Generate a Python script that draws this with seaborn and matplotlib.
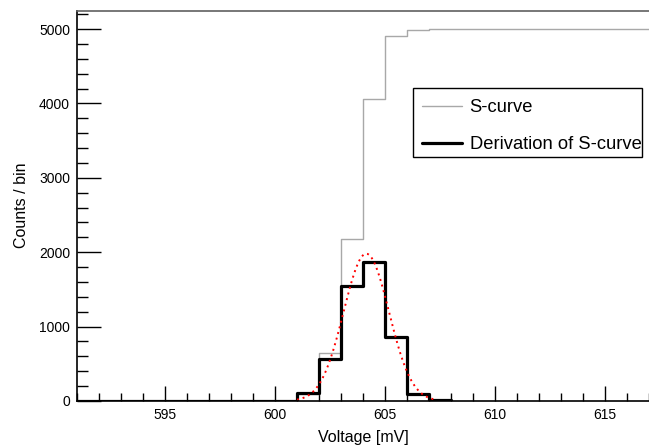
import numpy as np
import pandas as pd
import matplotlib
matplotlib.use("Agg")
import matplotlib.pyplot as plt
import seaborn as sns
from matplotlib.ticker import MultipleLocator
from matplotlib.lines import Line2D
from matplotlib.patches import Rectangle

# ---- data ----
scurve_bin_low = list(range(591, 617))  # lower edges of 1 mV bins
scurve_counts = [0, 0, 0, 0, 0, 0, 0, 0, 0, 0,
                 100, 650, 2180, 4060, 4910, 4990,
                 5000, 5000, 5000, 5000, 5000, 5000, 5000, 5000, 5000, 5000]
deriv_bin_low = list(range(591, 608))
deriv_counts = [0, 0, 0, 0, 0, 0, 0, 0, 0, 0,
                110, 560, 1550, 1870, 860, 92, 12]
# Gaussian fit parameters
fit_amp = 1980.0
fit_mean = 604.15
fit_sigma = 1.03
fit_range = (601.0, 607.3)

x_label = "Voltage [mV]"
y_label = "Counts / bin"
legend_labels = ["S-curve", "Derivation of S-curve"]

sns.set_theme(style="white")
plt.rcParams['font.family'] = ['Liberation Sans', 'DejaVu Sans']

W, H = 649, 445
fig = plt.figure(figsize=(W / 100, H / 100), dpi=100)
ax = fig.add_axes([77 / W, 1 - 401 / H, 1 - 77 / W, (401 - 10.5) / H])

s_df = pd.DataFrame({"x": np.array(scurve_bin_low) + 0.5, "w": scurve_counts})
d_df = pd.DataFrame({"x": np.array(deriv_bin_low) + 0.5, "w": deriv_counts})

sns.histplot(data=s_df, x="x", weights="w", binwidth=1, binrange=(591, 617),
             element="step", fill=False, color="#a8a8a8", linewidth=1.0, ax=ax)
sns.histplot(data=d_df, x="x", weights="w", binwidth=1, binrange=(591, 608),
             element="step", fill=False, color="black", linewidth=2.3, ax=ax)

xf = np.linspace(fit_range[0], fit_range[1], 300)
yf = fit_amp * np.exp(-0.5 * ((xf - fit_mean) / fit_sigma) ** 2)
sns.lineplot(x=xf, y=yf, color="red", linestyle=(0, (1, 2)), linewidth=1.4, ax=ax)

ax.set_xlim(591, 617)
ax.set_ylim(0, 5250)
ax.xaxis.set_major_locator(MultipleLocator(5))
ax.xaxis.set_minor_locator(MultipleLocator(1))
ax.yaxis.set_major_locator(MultipleLocator(1000))
ax.yaxis.set_minor_locator(MultipleLocator(200))
ax.tick_params(axis="x", which="major", direction="in", length=11, width=1,
               color="black", labelcolor="black", labelsize=10, pad=5,
               bottom=True, top=False)
ax.tick_params(axis="x", which="minor", direction="in", length=5.5, width=1,
               color="black", bottom=True, top=False)
ax.tick_params(axis="y", which="major", direction="in", length=17, width=1,
               color="black", labelcolor="black", labelsize=10, pad=5,
               left=True, right=False)
ax.tick_params(axis="y", which="minor", direction="in", length=8, width=1,
               color="black", left=True, right=False)

ax.set_xlabel(x_label, fontsize=11.5, labelpad=6, color="black")
ax.set_ylabel(y_label, fontsize=11.5, labelpad=7, color="black")

for side in ["left", "bottom"]:
    ax.spines[side].set_color("black")
    ax.spines[side].set_linewidth(1.2)
ax.spines["top"].set_color("#606060")
ax.spines["top"].set_linewidth(1.2)
ax.spines["right"].set_visible(False)

# legend: frame drawn as a box, entries via ax.legend
box = Rectangle((413 / W, 1 - 157 / H), (642 - 413) / W, (157 - 88) / H,
                transform=fig.transFigure, facecolor="white", edgecolor="black",
                linewidth=1.0, zorder=4.5, clip_on=False)
ax.add_patch(box)
handles = [Line2D([0], [0], color="#a8a8a8", linewidth=1.0),
           Line2D([0], [0], color="black", linewidth=2.3)]
leg = ax.legend(handles, legend_labels, loc="upper left",
                bbox_to_anchor=(422 / W, 1 - 99.5 / H),
                bbox_transform=fig.transFigure,
                fontsize=13.2, frameon=False,
                borderpad=0.0, handlelength=2.2, handletextpad=0.4,
                labelspacing=1.08, borderaxespad=0)
leg.set_zorder(6)
for t in leg.get_texts():
    t.set_color("black")

fig.savefig("out.png", dpi=100)
